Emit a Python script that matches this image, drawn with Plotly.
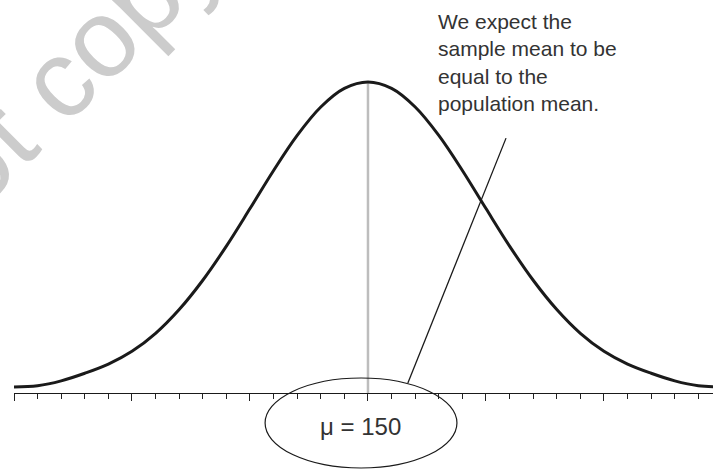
import plotly.graph_objects as go

# Sampling distribution of the mean: curve heights (relative, peak = 100) at each unit step
x_vals = list(range(135, 166))
heights = [0, 0.4, 2.0, 4.5, 7.5, 11.7, 17.6, 25.4, 35.0, 46.2, 58.5, 71.0, 82.5, 91.8, 97.9,
           100,
           97.9, 91.8, 82.5, 71.0, 58.5, 46.2, 35.0, 25.4, 17.6, 11.7, 7.5, 4.5, 2.0, 0.4, 0]
MU = 150
mu_label = "\u03bc = 150"
note_lines = ["We expect the", "sample mean to be", "equal to the", "population mean."]

X_RANGE = [135, 164.62]
Y_RANGE = [-27.54, 126.89]
AXIS_Y = -1.97          # level of the horizontal axis line, in y units
AXIS_POS = (AXIS_Y - Y_RANGE[0]) / (Y_RANGE[1] - Y_RANGE[0])
X_DOMAIN = [14 / 713, 1]

fig = go.Figure()

fig.add_trace(go.Scatter(
    x=x_vals, y=heights, mode="lines",
    line=dict(color="#1a1a1a", width=3, shape="spline", smoothing=1),
    hoverinfo="skip", showlegend=False, cliponaxis=True,
))

# mean marker from the axis up to the peak
fig.add_shape(type="line", x0=MU, x1=MU, y0=AXIS_Y, y1=max(heights),
              line=dict(color="#bdbdbd", width=2.5), layer="below")

# ellipse round the mean label
fig.add_shape(type="circle", x0=145.64, x1=153.77, y0=-26.56, y1=2.95,
              line=dict(color="#1a1a1a", width=1.2), layer="above")

# leader line from the note to the ellipse
fig.add_shape(type="line", x0=155.85, y0=81.6, x1=151.69, y1=1.3,
              line=dict(color="#1a1a1a", width=1.3), layer="above")

fig.add_annotation(x=149.7, y=-13.1, text=mu_label, showarrow=False,
                   font=dict(family="Liberation Sans", size=24, color="#333333"),
                   xanchor="center", yanchor="middle")

fig.add_annotation(x=152.89, y=124.3, text="<br>".join(note_lines), showarrow=False,
                   font=dict(family="Liberation Sans", size=21, color="#333333"),
                   xanchor="left", yanchor="top", align="left")

# faint diagonal watermark
fig.add_annotation(xref="paper", yref="paper", x=-0.008, y=0.695,
                   text="Do not copy", showarrow=False, textangle=-45,
                   font=dict(family="Liberation Sans", size=110, color="#cccccc"),
                   xanchor="center", yanchor="middle")

fig.update_layout(
    width=713, height=471,
    margin=dict(l=0, r=0, t=0, b=0),
    paper_bgcolor="white", plot_bgcolor="white",
    xaxis=dict(
        range=X_RANGE, domain=X_DOMAIN, anchor="free", position=AXIS_POS,
        showgrid=False, zeroline=False, showticklabels=False,
        showline=True, linecolor="#1a1a1a", linewidth=1.3,
        ticks="outside", tick0=135, dtick=5, ticklen=7, tickwidth=1.2, tickcolor="#222222",
        minor=dict(ticks="outside", tick0=135, dtick=1, ticklen=4.5, tickwidth=1.2, tickcolor="#222222"),
    ),
    yaxis=dict(range=Y_RANGE, domain=[0, 1], visible=False),
)

fig.write_html("out.html")
